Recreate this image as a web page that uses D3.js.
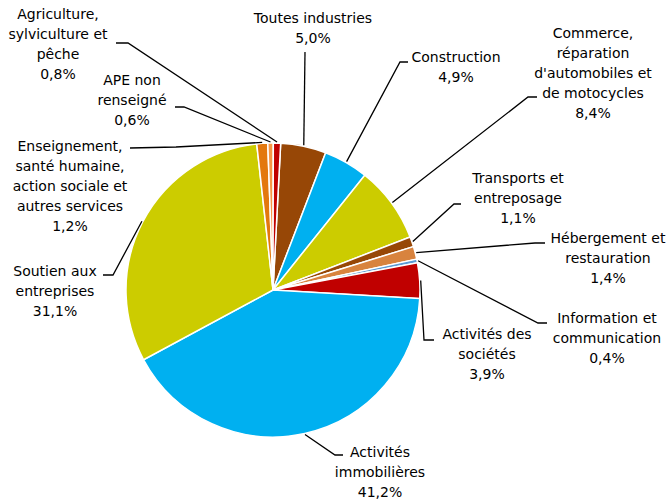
<!DOCTYPE html>
<html>
<head>
<meta charset="utf-8">
<script src="https://cdn.jsdelivr.net/npm/d3@7"></script>
<style>
  body { margin: 0; background: #fff; }
  text { font-family: "DejaVu Sans", Verdana, sans-serif; font-size: 14px; fill: #000; }
</style>
</head>
<body>
<div id="myViz"></div>
<script>
const width = 671
const height = 504

// secteurs, dans l'ordre du camembert (sens horaire depuis le haut)
const categories = [
  "Toutes industries",
  "Construction",
  "Commerce, réparation d'automobiles et de motocycles",
  "Transports et entreposage",
  "Hébergement et restauration",
  "Information et communication",
  "Activités des sociétés",
  "Activités immobilières",
  "Soutien aux entreprises",
  "Enseignement, santé humaine, action sociale et autres services",
  "APE non renseigné",
  "Agriculture, sylviculture et pêche"
]
const values = [5.0, 4.9, 8.4, 1.1, 1.4, 0.4, 3.9, 41.2, 31.1, 1.2, 0.6, 0.8]
const labelLines = [
  ["Toutes industries"],
  ["Construction"],
  ["Commerce,", "réparation", "d'automobiles et", "de motocycles"],
  ["Transports et", "entreposage"],
  ["Hébergement et", "restauration"],
  ["Information et", "communication"],
  ["Activités des", "sociétés"],
  ["Activités", "immobilières"],
  ["Soutien aux", "entreprises"],
  ["Enseignement,", "santé humaine,", "action sociale et", "autres services"],
  ["APE non", "renseigné"],
  ["Agriculture,", "sylviculture et", "pêche"]
]
const colors = ["#974706", "#00b0f0", "#cccc00", "#974706", "#d8833e", "#5b9bd5",
                "#c00000", "#00b0f0", "#cccc00", "#e3780e", "#f79646", "#c00000"]

// mise en page des étiquettes : centre du texte, coude et bout du trait
const labelPos = [
  { x: 313, y: 18, elbow: [305, 52], end: [305, 52] },
  { x: 456, y: 57, elbow: [400, 62], end: [408, 62] },
  { x: 593, y: 33, elbow: [528, 97], end: [537, 97] },
  { x: 518, y: 178, elbow: [454, 204], end: [461, 204] },
  { x: 608, y: 238, elbow: [535, 243], end: [545, 243] },
  { x: 607, y: 318, elbow: [538, 323], end: [547, 323] },
  { x: 487, y: 334, elbow: [424, 340], end: [434, 340] },
  { x: 380, y: 452, elbow: [335, 455], end: [343, 455] },
  { x: 55, y: 271, elbow: [113, 275], end: [103, 275] },
  { x: 70, y: 146, elbow: [176, 147], end: [130, 148] },
  { x: 132, y: 80, elbow: [184, 107], end: [175, 107] },
  { x: 58, y: 14, elbow: [128, 43], end: [116, 43] }
]

const cx = 273, cy = 290, radius = 147
const lineH = 20
const fmt = v => d3.format(".1f")(v).replace(".", ",") + "%"

const svg = d3.select("#myViz")
  .append("svg")
    .attr("width", width)
    .attr("height", height)

const g = svg.append("g")
    .attr("transform", "translate(" + cx + "," + cy + ")")

const rot = 3 * Math.PI / 180
const pie = d3.pie()
  .value(d => d)
  .sort(null)
  .startAngle(rot)
  .endAngle(rot + 2 * Math.PI)
const data_ready = pie(values)

const arc = d3.arc().innerRadius(0).outerRadius(radius)
const edge = d3.arc().innerRadius(radius + 1).outerRadius(radius + 1)

g.selectAll("path.slice")
  .data(data_ready)
  .enter()
  .append("path")
    .attr("class", "slice")
    .attr("d", arc)
    .attr("fill", (d, i) => colors[i])
    .attr("stroke", "#fff")
    .style("stroke-width", "1.5px")

// traits de rappel
svg.selectAll("polyline")
  .data(data_ready)
  .enter()
  .append("polyline")
    .attr("points", (d, i) => {
      const a = edge.centroid(d)
      const p = labelPos[i]
      return [[a[0] + cx, a[1] + cy], p.elbow, p.end].map(q => q.join(",")).join(" ")
    })
    .attr("fill", "none")
    .attr("stroke", "#000")
    .style("stroke-width", "1.3px")

// étiquettes
const labels = svg.selectAll("text.lbl")
  .data(data_ready)
  .enter()
  .append("text")
    .attr("class", "lbl")
    .attr("text-anchor", "middle")
    .attr("dominant-baseline", "central")

labels.each(function(d, i) {
  const t = d3.select(this)
  const lines = labelLines[i].concat([fmt(values[i])])
  lines.forEach((s, k) => {
    t.append("tspan")
      .attr("x", labelPos[i].x)
      .attr("y", labelPos[i].y + k * lineH)
      .text(s)
  })
})
</script>
</body>
</html>
